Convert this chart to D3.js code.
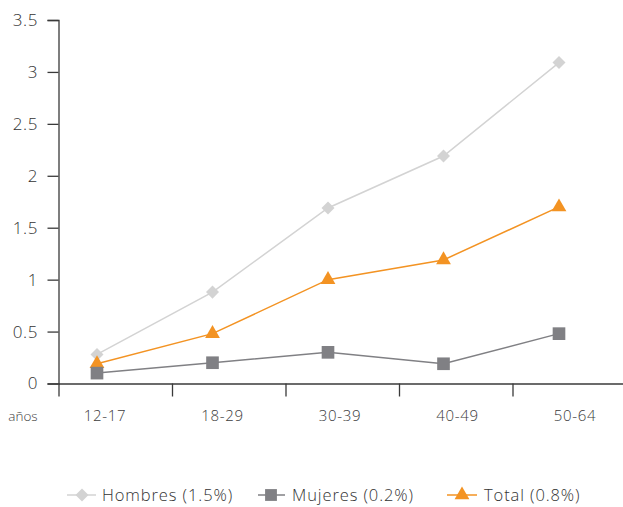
<!DOCTYPE html>
<html><head><meta charset="utf-8">
<script src="https://cdn.jsdelivr.net/npm/d3@7"></script>
<style>
html,body{margin:0;padding:0;background:#fff;}
svg{display:block;font-family:"Open Sans",sans-serif;}
svg text{font-weight:300;}
</style></head>
<body>
<svg id="c" width="623" height="507"></svg>
<script>
const categories = ["12-17","18-29","30-39","40-49","50-64"];
const hombres = [0.28, 0.88, 1.69, 2.19, 3.09];
const mujeres = [0.10, 0.20, 0.30, 0.19, 0.48];
const total   = [0.19, 0.48, 1.00, 1.19, 1.70];
const yTicks = [0, 0.5, 1, 1.5, 2, 2.5, 3, 3.5];
const seriesNames = ["Hombres (1.5%)", "Mujeres (0.2%)", "Total (0.8%)"];
const unitLabel = "años";

const svg = d3.select("#c");
const y = d3.scaleLinear().domain([0, 3.5]).range([383.5, 20]);
const xPt = d3.scalePoint().domain(categories).range([97, 559]);
const xLab = d3.scalePoint().domain(categories).range([105, 575]);
const xTick = d3.scaleLinear().domain([0, 5]).range([58.5, 626]);

const axisColor = "#3a3a3a";
// Y axis
const ya = svg.append("g").attr("transform","translate(58.5,0)")
  .call(d3.axisLeft(y).tickValues(yTicks).tickSize(11).tickPadding(10).tickFormat(d => String(d)));
ya.select(".domain").attr("stroke", axisColor).attr("stroke-width",1.3);
ya.selectAll(".tick line").attr("stroke", axisColor).attr("stroke-width",1.3);
ya.selectAll(".tick text").attr("fill","#333").style("font-size","17px")
  .style("letter-spacing","0.7px").attr("dx","0.7").style("font-family","'Open Sans',sans-serif");

// X axis
const xa = svg.append("g").attr("transform","translate(0,383.5)")
  .call(d3.axisBottom(xTick).tickValues([0,1,2,3,4]).tickSize(13).tickSizeOuter(0).tickFormat(""));
xa.select(".domain").attr("stroke", axisColor).attr("stroke-width",1.3);
xa.selectAll(".tick line").attr("stroke", axisColor).attr("stroke-width",1.3);

svg.append("g").selectAll("text").data(categories).join("text")
  .attr("x", d => xLab(d)).attr("y", 421)
  .attr("text-anchor","middle").attr("fill","#3c3c3c")
  .style("font-size","15px").style("letter-spacing","0.7px").text(d => d);
svg.append("text").attr("x",23).attr("y",421).attr("text-anchor","middle")
  .attr("fill","#3c3c3c").style("font-size","13.5px").text(unitLabel);

const colors = {h:"#d3d3d3", m:"#808084", t:"#f39323"};
const line = d3.line().x((d,i) => xPt(categories[i])).y(d => y(d));

function drawSeries(vals, color, sym, size, rot){
  svg.append("path").datum(vals).attr("d", line).attr("fill","none")
    .attr("stroke", color).attr("stroke-width",1.5);
  svg.append("g").selectAll("path").data(vals).join("path")
    .attr("d", d3.symbol().type(sym).size(size))
    .attr("transform",(d,i)=>`translate(${xPt(categories[i])},${y(d)}) rotate(${rot})`)
    .attr("fill", color);
}
drawSeries(hombres, colors.h, d3.symbolSquare, 85, 45);
drawSeries(total, colors.t, d3.symbolTriangle, 95, 0);
drawSeries(mujeres, colors.m, d3.symbolSquare, 160, 0);

// Legend
const legend = [
  {name: seriesNames[0], color: colors.h, sym: d3.symbolSquare, size: 85, rot: 45, x0: 67, x1: 96, mx: 82, tx: 102},
  {name: seriesNames[1], color: colors.m, sym: d3.symbolSquare, size: 140, rot: 0, x0: 258, x1: 285, mx: 271, tx: 292},
  {name: seriesNames[2], color: colors.t, sym: d3.symbolTriangle, size: 95, rot: 0, x0: 447, x1: 477, mx: 462, tx: 484}
];
const lg = svg.append("g").selectAll("g").data(legend).join("g");
lg.append("line").attr("x1",d=>d.x0).attr("x2",d=>d.x1).attr("y1",495).attr("y2",495)
  .attr("stroke",d=>d.color).attr("stroke-width",1.5);
lg.append("path").attr("d",d=>d3.symbol().type(d.sym).size(d.size)())
  .attr("transform",d=>`translate(${d.mx},495) rotate(${d.rot})`).attr("fill",d=>d.color);
lg.append("text").attr("x",d=>d.tx).attr("y",501).attr("fill","#333")
  .style("font-size","16.5px").style("letter-spacing","0.9px").text(d=>d.name);
</script>
</body></html>
